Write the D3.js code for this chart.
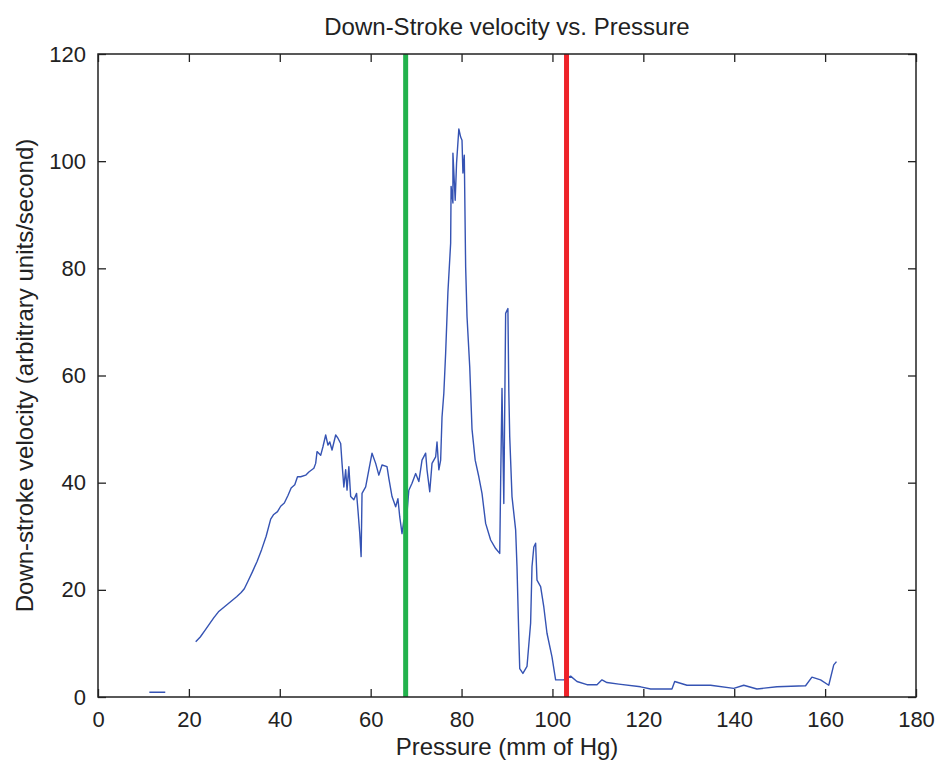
<!DOCTYPE html>
<html>
<head>
<meta charset="utf-8">
<script src="https://cdn.jsdelivr.net/npm/d3@7"></script>
<style>
  body { margin: 0; background: #fff; }
  svg text { font-family: "Liberation Sans", Arial, sans-serif; fill: #222; }
</style>
</head>
<body>
<div id="chart"></div>
<script>
// pressure (mm of Hg) and down-stroke velocity, null = gap in the trace
const pressure = [
  11.3, 14.8, null,
  21.5, 22.5, 23.5, 24.5, 25.5, 26.5, 27.5, 28.5, 29.5, 30.5, 31.5, 32.2, 33, 34, 35, 36, 37, 38,
  38.6, 39.5, 40.2, 41, 41.8, 42.5, 43.3, 43.9, 44.6, 45.7, 46.4, 47.5, 47.9, 48.2, 49, 49.5,
  50.1, 50.6, 51, 51.5, 52.3, 52.8, 53.4, 53.7, 54.1, 54.5, 54.8, 55.2, 55.6, 56.3, 56.9, 57.2,
  57.6, 57.9, 58.1, 58.9, 59.6, 60.3, 61.1, 61.8, 62.5, 63.6, 64, 64.7, 65.5, 66, 66.4, 66.9,
  67.3, 67.6, 68.4, 69.1, 69.9, 70.6, 71.3, 72.1, 72.4, 73, 73.5, 74.3, 74.6, 75, 75.4, 75.7,
  76.1, 76.5, 77, 77.6, 77.7, 78.1, 78.1, 78.6, 78.9, 79.4, 79.8, 80.1, 80.3, 80.6, 80.9, 81.2,
  81.8, 82.3, 83, 83.8, 84.5, 85.3, 86.4, 87.5, 88.4, 88.6, 88.9, 89.3, 89.7, 90.2, 90.4, 90.6,
  91.1, 91.9, 92.2, 92.6, 92.8, 93.5, 94.4, 95.2, 95.5, 95.9, 96.3, 96.6, 97.4, 98.1, 98.8, 99.9,
  100.7, 102.5, 104, 105.4, 107.6, 109.8, 110.9, 112, 114.6, 119.4, 121.6, 126.3, 126.9, 129.6,
  134.8, 139.9, 142.1, 145, 149.4, 155.7, 157.1, 159, 160.8, 161.9, 162.5
];
const velocity = [
  0.9, 0.9, null,
  10.3, 11.2, 12.4, 13.6, 14.8, 15.9, 16.6, 17.3, 18.0, 18.7, 19.5, 20.2, 21.6, 23.4, 25.3, 27.5, 30.0, 33.2,
  34.0, 34.6, 35.6, 36.2, 37.6, 39.0, 39.6, 41.1, 41.1, 41.4, 42.0, 42.7, 43.6, 45.8, 45.1, 46.7,
  48.9, 47.0, 47.6, 46.1, 48.9, 48.3, 47.3, 43.6, 39.2, 42.4, 38.6, 43.0, 37.4, 36.8, 38.0, 34.9,
  30.5, 26.2, 38.0, 39.2, 42.4, 45.5, 43.6, 41.4, 43.3, 43.0, 40.8, 37.4, 35.5, 37.0, 33.6, 30.5,
  33.0, 30.2, 38.6, 39.9, 41.7, 40.2, 44.2, 45.5, 42.4, 38.3, 43.6, 44.8, 47.6, 42.4, 44.2, 52.2,
  56.7, 64.2, 75.6, 84.7, 95.3, 92.2, 101.5, 92.7, 99.6, 106, 104.5, 103.9, 97.8, 101.1, 80.3, 71,
  61.6, 50, 44.2, 41.1, 38, 32.4, 29.3, 27.7, 26.8, 39.9, 57.6, 36.1, 71.6, 72.5, 57, 48.6,
  37.4, 31.2, 24.3, 11.2, 5.3, 4.4, 5.7, 13.8, 24.3, 28, 28.7, 21.8, 20.6, 16.8, 11.9, 7.5,
  3.2, 3.2, 3.9, 2.9, 2.3, 2.3, 3.2, 2.7, 2.4, 1.9, 1.5, 1.5, 2.9, 2.2,
  2.2, 1.6, 2.2, 1.5, 1.9, 2.1, 3.7, 3.2, 2.2, 6, 6.6
];
// vertical marker lines
const markerPressure = [67.7, 103.1];
const markerColors = ['#22b24c', '#ee2229'];
const xTicks = [0, 20, 40, 60, 80, 100, 120, 140, 160, 180];
const yTicks = [0, 20, 40, 60, 80, 100, 120];

const width = 939, height = 767;
const margin = { top: 54, right: 23, bottom: 70, left: 98 };
const innerW = width - margin.left - margin.right;
const innerH = height - margin.top - margin.bottom;

const svg = d3.select('#chart')
  .append('svg')
  .attr('width', width)
  .attr('height', height);

const g = svg.append('g')
  .attr('transform', `translate(${margin.left},${margin.top})`);

const x = d3.scaleLinear().domain([0, 180]).range([0, innerW]);
const y = d3.scaleLinear().domain([0, 120]).range([innerH, 0]);

// matlab style: ticks inside, on all four sides
const tickLen = 8;
g.append('g')
  .attr('transform', `translate(0,${innerH})`)
  .call(d3.axisBottom(x).tickValues(xTicks).tickSizeInner(-tickLen).tickSizeOuter(0).tickPadding(14))
  .call(a => a.select('.domain').remove());
g.append('g')
  .call(d3.axisTop(x).tickValues(xTicks).tickSizeInner(-tickLen).tickSizeOuter(0).tickFormat(''))
  .call(a => a.select('.domain').remove());
g.append('g')
  .call(d3.axisLeft(y).tickValues(yTicks).tickSizeInner(-tickLen).tickSizeOuter(0).tickPadding(12))
  .call(a => a.select('.domain').remove());
g.append('g')
  .attr('transform', `translate(${innerW},0)`)
  .call(d3.axisRight(y).tickValues(yTicks).tickSizeInner(-tickLen).tickSizeOuter(0).tickFormat(''))
  .call(a => a.select('.domain').remove());

g.selectAll('.tick line').attr('stroke', '#222').attr('stroke-width', 1.3);
g.selectAll('.tick text').style('font-size', '22px').attr('fill', '#222');

// the trace
const pts = pressure.map((p, i) => [p, velocity[i]]);
const line = d3.line()
  .defined(d => d[0] !== null && d[1] !== null)
  .x(d => x(d[0]))
  .y(d => y(d[1]));

g.append('path')
  .datum(pts)
  .attr('d', line)
  .attr('fill', 'none')
  .attr('stroke', '#3553b3')
  .attr('stroke-width', 1.4)
  .attr('stroke-linejoin', 'round');

// green and red vertical lines
g.selectAll('.marker')
  .data(markerPressure)
  .enter()
  .append('line')
  .attr('x1', d => x(d))
  .attr('x2', d => x(d))
  .attr('y1', 0)
  .attr('y2', innerH)
  .attr('stroke', (d, i) => markerColors[i])
  .attr('stroke-width', 5);

// box
g.append('rect')
  .attr('width', innerW)
  .attr('height', innerH)
  .attr('fill', 'none')
  .attr('stroke', '#222')
  .attr('stroke-width', 1.5);

// titles
svg.append('text')
  .attr('x', margin.left + innerW / 2)
  .attr('y', 35)
  .attr('text-anchor', 'middle')
  .style('font-size', '24px')
  .text('Down-Stroke velocity vs. Pressure');

svg.append('text')
  .attr('x', margin.left + innerW / 2)
  .attr('y', 755)
  .attr('text-anchor', 'middle')
  .style('font-size', '24px')
  .text('Pressure (mm of Hg)');

svg.append('text')
  .attr('transform', `translate(33,${margin.top + innerH / 2}) rotate(-90)`)
  .attr('text-anchor', 'middle')
  .style('font-size', '24px')
  .text('Down-stroke velocity (arbitrary units/second)');
</script>
</body>
</html>
